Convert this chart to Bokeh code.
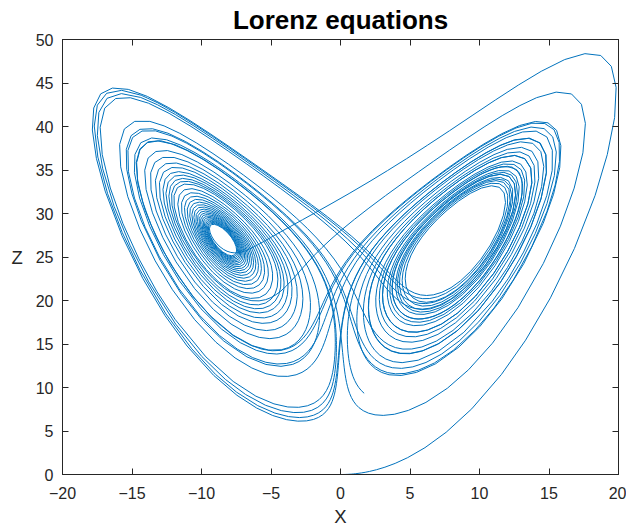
import numpy as np
from bokeh.plotting import figure
from bokeh.models import Range1d, FixedTicker, LinearAxis
from bokeh.embed import file_html
from bokeh.resources import INLINE

# ---- chart definition: Lorenz system, solved like Octave's ode45 ----
SIGMA = 10.0
RHO = 28.0
BETA = 8 / 3
X0 = [0.0, 1.0, 0.0]          # initial state (x, y, z)
T_END = 45.25                 # end of the time span
REL_TOL = 1e-3
ABS_TOL = 1e-6
REFINE = 4

TITLE = "Lorenz equations"
X_LABEL = "X"
Y_LABEL = "Z"
X_TICKS = [-20, -15, -10, -5, 0, 5, 10, 15, 20]
Y_TICKS = [0, 5, 10, 15, 20, 25, 30, 35, 40, 45, 50]
LINE_COLOR = "#0072BD"
AX_COLOR = "#262626"
FONT = "Liberation Sans"


def fcn(t, x):
    return np.array([SIGMA * (x[1] - x[0]),
                     x[0] * (RHO - x[2]) - x[1],
                     x[0] * x[1] - BETA * x[2]])


A = np.array([[0, 0, 0, 0, 0, 0], [1/5, 0, 0, 0, 0, 0], [3/40, 9/40, 0, 0, 0, 0],
              [44/45, -56/15, 32/9, 0, 0, 0],
              [19372/6561, -25360/2187, 64448/6561, -212/729, 0, 0],
              [9017/3168, -355/33, 46732/5247, 49/176, -5103/18656, 0]])
B = np.array([0, 1/5, 3/10, 4/5, 8/9, 1, 1])
C = np.array([35/384, 0, 500/1113, 125/192, -2187/6784, 11/84])
CP = np.array([5179/57600, 0, 7571/16695, 393/640, -92097/339200, 187/2100, 1/40])
UH = np.array([6025192743/30085553152, 0, 51252292925/65400821598,
               -2691868925/45128329728, 187940372067/1594534317056,
               -1776094331/19743644256, 11237099/235043384])


def absrel(x, xo, atol, rtol, y=None):
    if y is None:
        y = np.zeros_like(x)
    sc = np.maximum(atol, rtol * np.maximum(np.abs(x), np.abs(xo)))
    return np.max(np.abs(x - y) / sc)


def ode45(x0, tf, atol, rtol, refine, order=5):
    x0 = np.array(x0, float)
    t0 = 0.0
    d0 = absrel(x0, x0, atol, rtol)
    y = fcn(t0, x0)
    d1 = absrel(y, y, atol, rtol)
    h0 = 1e-6 if (d0 < 1e-5 or d1 < 1e-5) else 0.01 * (d0 / d1)
    yh = fcn(t0 + h0, x0 + h0 * y)
    d2 = (1 / h0) * absrel(yh - y, yh - y, atol, rtol)
    if max(d1, d2) <= 1e-15:
        h1 = max(1e-6, h0 * 1e-3)
    else:
        h1 = (1e-2 / max(d1, d2)) ** (1 / (order + 1))
    dt = min(100 * h0, h1)
    maxstep = abs(tf - t0) / 10
    dt = min(dt, maxstep)
    facmin, facmax, fac = 0.8, 1.5, 0.38 ** (1 / (order + 1))
    t_old, x_old, kv = t0, x0, None
    out = [x0]
    while t_old < tf:
        t_new = t_old + dt
        k = np.zeros((3, 7))
        aa = dt * A
        k[:, 0] = kv[:, -1] if kv is not None else fcn(t_old, x_old)
        for j in range(1, 6):
            k[:, j] = fcn(t_old + dt * B[j], x_old + k[:, :j] @ aa[j, :j])
        x_new = x_old + k[:, :6] @ (dt * C)
        k[:, 6] = fcn(t_new, x_new)
        x_est = x_old + k @ (dt * CP)
        err = absrel(x_new, x_old, atol, rtol, x_est)
        if err <= 1:
            uh = x_old + 0.5 * dt * (k @ UH)
            for s in np.linspace(0, 1, refine + 1)[1:]:
                out.append((1 - 11*s**2 + 18*s**3 - 8*s**4) * x_old
                           + (s - 4*s**2 + 5*s**3 - 2*s**4) * (dt * k[:, 0])
                           + (16*s**2 - 32*s**3 + 16*s**4) * uh
                           + (-5*s**2 + 14*s**3 - 8*s**4) * x_new
                           + (s**2 - 3*s**3 + 2*s**4) * (dt * k[:, 6]))
            t_old, x_old, kv = t_new, x_new, k
        err += np.finfo(float).eps
        dt *= min(facmax, max(facmin, fac * (1 / err) ** (1 / (order + 1))))
        dt = min(dt, maxstep, tf - t_old)
        if dt <= 1e-14:
            break
    return np.array(out)


sol = ode45(X0, T_END, ABS_TOL, REL_TOL, REFINE)
xs = sol[:, 0]
zs = sol[:, 2]

p = figure(width=626, height=529, output_backend="svg", toolbar_location=None,
           x_range=Range1d(-20, 20), y_range=Range1d(0, 50),
           min_border_left=62, min_border_right=8, min_border_top=39, min_border_bottom=55,
           background_fill_color="white", border_fill_color="white")
p.grid.visible = False
p.outline_line_color = AX_COLOR
p.outline_line_width = 1

p.line(xs, zs, line_color=LINE_COLOR, line_width=1)

p.title.text = TITLE
p.title.align = "center"
p.title.vertical_align = "top"
p.title.text_font = FONT
p.title.text_font_size = "26px"
p.title.text_font_style = "bold"
p.title.text_color = "black"
p.title.standoff = 5

for ax, ticks in ((p.xaxis[0], X_TICKS), (p.yaxis[0], Y_TICKS)):
    ax.ticker = FixedTicker(ticks=ticks)
    ax.axis_line_color = AX_COLOR
    ax.major_tick_line_color = AX_COLOR
    ax.major_tick_in = 6
    ax.major_tick_out = 0
    ax.minor_tick_line_color = None
    ax.major_label_text_font = FONT
    ax.major_label_text_font_size = "16px"
    ax.major_label_text_color = AX_COLOR
    ax.axis_label_text_font = FONT
    ax.axis_label_text_font_size = "18.5px"
    ax.axis_label_text_font_style = "normal"
    ax.axis_label_text_color = AX_COLOR

p.xaxis[0].major_label_standoff = 12
p.xaxis[0].axis_label = X_LABEL
p.xaxis[0].axis_label_standoff = 4

p.yaxis[0].major_label_standoff = 9
p.yaxis[0].axis_label = Y_LABEL
p.yaxis[0].axis_label_standoff = 10
try:
    p.yaxis[0].axis_label_orientation = "horizontal"
except Exception:
    pass

for side, ticks in (("above", X_TICKS), ("right", Y_TICKS)):
    ax = LinearAxis(ticker=FixedTicker(ticks=ticks), axis_line_color=AX_COLOR,
                    major_tick_line_color=AX_COLOR, major_tick_in=6, major_tick_out=0,
                    minor_tick_line_color=None, major_label_text_font_size="0px",
                    major_label_text_color=None, major_label_standoff=0)
    p.add_layout(ax, side)

open("out.html", "w").write(file_html(p, INLINE))
